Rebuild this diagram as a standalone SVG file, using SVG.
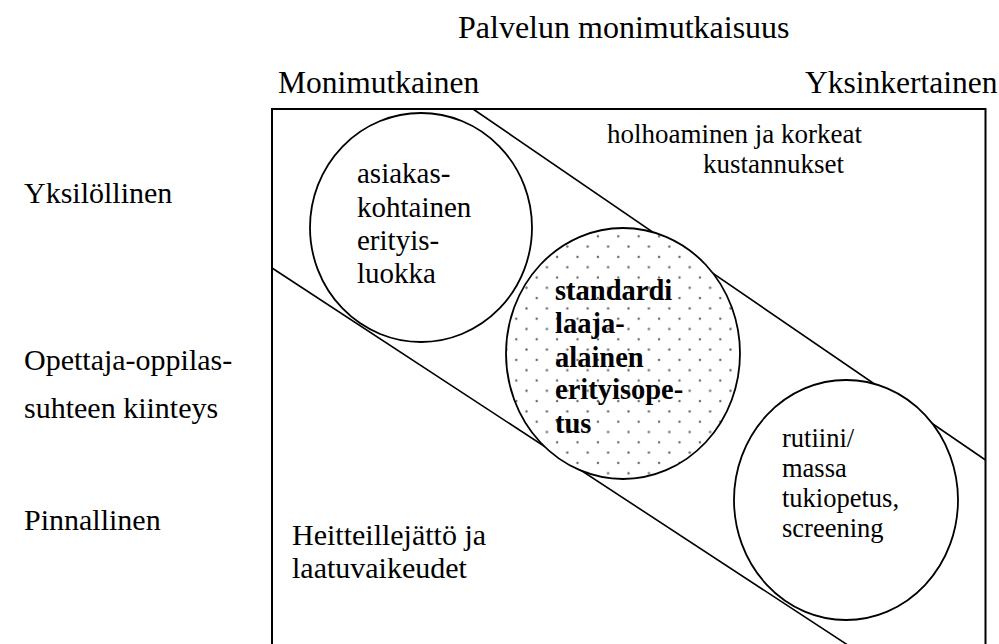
<svg xmlns="http://www.w3.org/2000/svg" width="999" height="644" viewBox="0 0 999 644">
  <style>
    text { font-family: "Liberation Serif", "Times New Roman", serif; fill: #000; }
    .hdr { font-size: 31.5px; }
    .lbl { font-size: 30px; }
    .frame { fill: none; stroke: #000; stroke-width: 2; }
    .edge { fill: none; stroke: #000; stroke-width: 1.6; }
    .ring { fill: #fff; stroke: #000; stroke-width: 1.8; }
  </style>
  <defs>
    <!-- staggered dot screen for the shaded ellipse -->
    <pattern id="dots" patternUnits="userSpaceOnUse" x="536.7" y="421.7" width="20.4" height="20.6">
      <rect width="20.4" height="20.6" fill="#fff"/>
      <circle cx="0" cy="0" r="1.2" fill="#666"/>
      <circle cx="20.4" cy="0" r="1.2" fill="#666"/>
      <circle cx="0" cy="20.6" r="1.2" fill="#666"/>
      <circle cx="20.4" cy="20.6" r="1.2" fill="#666"/>
      <circle cx="10.2" cy="10.3" r="1.2" fill="#666"/>
    </pattern>
  </defs>
  <rect width="999" height="644" fill="#fff"/>

  <!-- axis titles -->
  <g id="axes">
    <text class="hdr" x="458" y="38" style="font-size:32px">Palvelun monimutkaisuus</text>
    <text class="hdr" x="278" y="93">Monimutkainen</text>
    <text class="hdr" x="805" y="93">Yksinkertainen</text>
    <text class="lbl" x="24" y="203">Yksilöllinen</text>
    <text class="lbl" x="24" y="370">Opettaja-oppilas-</text>
    <text class="lbl" x="24" y="418">suhteen kiinteys</text>
    <text class="lbl" x="24" y="530">Pinnallinen</text>
  </g>

  <!-- frame and diagonal band -->
  <g id="connectors">
    <path class="frame" d="M272,660 V109 H985.5 V660"/>
    <line class="edge" x1="473" y1="109" x2="985.5" y2="460"/>
    <line class="edge" x1="272" y1="268" x2="850" y2="646.5"/>
  </g>

  <g id="zone-high">
    <text x="607" y="143" style="font-size:27px">holhoaminen ja korkeat</text>
    <text x="703" y="173" style="font-size:27px">kustannukset</text>
  </g>

  <g id="zone-low">
    <text class="lbl" x="292" y="545">Heitteillejättö ja</text>
    <text class="lbl" x="292" y="578">laatuvaikeudet</text>
  </g>

  <g id="node-asiakas">
    <ellipse class="ring" cx="421" cy="227.5" rx="111" ry="114.5"/>
    <g style="font-size:29px">
      <text x="357" y="183">asiakas-</text>
      <text x="357" y="217">kohtainen</text>
      <text x="357" y="250">erityis-</text>
      <text x="357" y="283">luokka</text>
    </g>
  </g>

  <g id="node-standardi">
    <ellipse cx="623" cy="353.5" rx="117" ry="125.5" fill="url(#dots)" stroke="#000" stroke-width="1.8"/>
    <g style="font-size:28.5px;font-weight:bold">
      <text x="555" y="300">standardi</text>
      <text x="555" y="333">laaja-</text>
      <text x="555" y="367">alainen</text>
      <text x="555" y="399">erityisope-</text>
      <text x="555" y="433">tus</text>
    </g>
  </g>

  <g id="node-rutiini">
    <ellipse class="ring" cx="846" cy="500" rx="112" ry="120"/>
    <g style="font-size:26.5px">
      <text x="782" y="447">rutiini/</text>
      <text x="782" y="477">massa</text>
      <text x="782" y="507">tukiopetus,</text>
      <text x="782" y="537">screening</text>
    </g>
  </g>
</svg>
